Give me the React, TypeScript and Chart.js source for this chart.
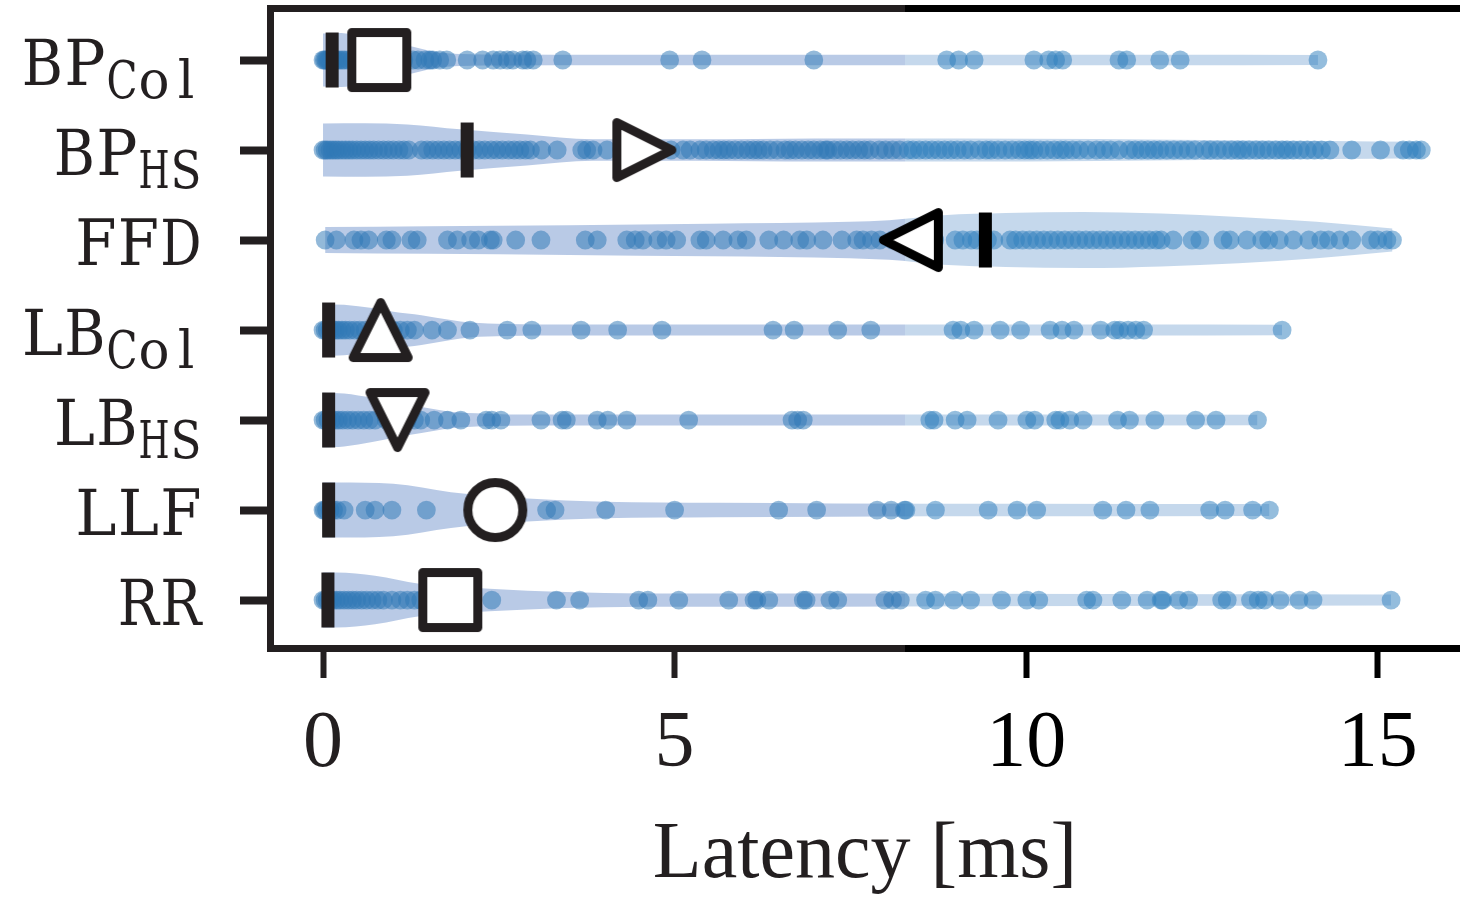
import { useEffect, useRef } from "react";
import { Chart, registerables } from "chart.js";

Chart.register(...registerables);

// ---------------- data ----------------
const categories = ["BPCol", "BPHS", "FFD", "LBCol", "LBHS", "LLF", "RR"];
const labelMain = ["BP", "BP", "FFD", "LB", "LB", "LLF", "RR"];
const labelSub = ["Col", "HS", "", "Col", "HS", "", ""];
const xTickValues = [0, 5, 10, 15];
const xMin = -0.754;
const xMax = 16.17;

const medians = [0.13, 2.05, 9.42, 0.08, 0.08, 0.08, 0.07];
const means = [0.8, 4.57, 8.36, 0.82, 1.06, 2.45, 1.81];
const meanMarkers = ["square", "triangleRight", "triangleLeft", "triangleUp", "triangleDown", "circle", "square"];

const pointsBPCol = [
  0.0, 0.02, 0.04, 0.06, 0.08, 0.1, 0.12, 0.14, 0.17, 0.2, 0.23, 0.27, 0.31, 0.36, 0.42, 0.5, 0.6, 0.72, 0.85, 1.0, 1.15,
  1.28, 1.35, 1.45, 1.52, 1.56, 1.66, 1.76, 2.05, 2.27, 2.42, 2.52, 2.62, 2.7, 2.84, 2.9, 2.99, 3.41, 4.93, 5.39, 6.98,
  8.87, 9.04, 9.26, 10.11, 10.32, 10.42, 10.52, 11.32, 11.43, 11.9, 12.19, 14.15,
];
const pointsBPHS = [
  0, 0.03, 0.06, 0.1, 0.14, 0.18, 0.22, 0.27, 0.32, 0.37, 0.42, 0.48, 0.54, 0.6, 0.66, 0.72, 0.79, 0.86, 0.93, 1.0, 1.08, 1.15, 1.22,
  1.4, 1.48, 1.56, 1.64, 1.72, 1.8, 1.88, 1.96, 2.05, 2.14, 2.22, 2.3, 2.39, 2.47, 2.55, 2.64, 2.72, 2.8, 2.88, 2.95,
  3.11, 3.33, 3.68, 3.75, 3.84, 4.04, 4.25, 4.45, 4.7, 4.95,
  5.12, 5.22, 5.36, 5.45, 5.55, 5.63, 5.7, 5.77, 5.86, 5.95, 6.04, 6.12, 6.19, 6.26, 6.36, 6.46, 6.57, 6.64, 6.72, 6.81, 6.9, 6.98,
  7.07, 7.15, 7.18, 7.27, 7.36, 7.45, 7.53, 7.62, 7.7, 7.78, 7.91, 8.0, 8.1, 8.2, 8.32, 8.39, 8.48, 8.57, 8.66, 8.75, 8.84, 8.93,
  9.02, 9.12, 9.21, 9.33, 9.43, 9.5, 9.6, 9.7, 9.8, 9.9, 9.98, 10.05, 10.11, 10.2, 10.3, 10.4, 10.49, 10.56, 10.66, 10.76, 10.88,
  11.0, 11.1, 11.2, 11.32, 11.46, 11.55, 11.64, 11.73, 11.82, 11.9, 12.0, 12.1, 12.2, 12.3, 12.4, 12.53, 12.62, 12.72, 12.82, 12.92,
  13.01, 13.08, 13.17, 13.27, 13.36, 13.45, 13.55, 13.64, 13.71, 13.8, 13.9, 14.0, 14.1, 14.2, 14.32, 14.63, 15.04, 15.36, 15.45,
  15.55, 15.62,
];
const pointsFFD = [
  0.03, 0.19, 0.44, 0.54, 0.65, 0.9, 0.98, 1.25, 1.34, 1.77, 1.91, 2.1, 2.21, 2.38, 2.42, 2.74, 3.1, 3.73, 3.9, 4.32, 4.44, 4.55,
  4.76, 4.88, 5.03, 5.36, 5.45, 5.69, 5.9, 6.02, 6.34, 6.55, 6.78, 6.88, 7.11, 7.38, 7.59, 7.68, 7.8, 7.92, 8.1, 8.4, 8.7,
  8.99, 9.1, 9.22, 9.3, 9.45, 9.54, 9.77, 9.85, 9.95, 10.05, 10.15, 10.25, 10.35, 10.45, 10.55, 10.65, 10.75, 10.85, 10.95,
  11.05, 11.15, 11.25, 11.35, 11.45, 11.55, 11.65, 11.75, 11.85, 11.92, 12.09, 12.36, 12.47, 12.8, 12.9, 13.14, 13.35, 13.45,
  13.6, 13.8, 14.02, 14.19, 14.3, 14.46, 14.63, 14.9, 15.0, 15.13, 15.21,
];
const pointsLBCol = [
  0, 0.03, 0.06, 0.1, 0.14, 0.18, 0.22, 0.27, 0.32, 0.38, 0.45, 0.52, 0.6, 0.7, 0.8, 0.9, 1.0, 1.1, 1.2, 1.3, 1.55, 1.77, 2.09,
  2.62, 2.97, 3.67, 4.19, 4.82, 6.4, 6.7, 7.32, 7.79, 8.96, 9.07, 9.26, 9.63, 9.92, 10.34, 10.51, 10.68, 11.06, 11.26, 11.33,
  11.45, 11.56, 11.67, 13.64,
];
const pointsLBHS = [
  0, 0.03, 0.07, 0.12, 0.17, 0.22, 0.28, 0.35, 0.42, 0.5, 0.58, 0.66, 0.74, 0.9, 1.0, 1.1, 1.2, 1.3, 1.39, 1.58, 1.77, 1.96,
  2.32, 2.4, 2.53, 3.1, 3.4, 3.46, 3.9, 4.05, 4.32, 5.2, 6.67, 6.75, 6.83, 8.63, 8.69, 8.99, 9.16, 9.6, 10.01, 10.12, 10.42,
  10.48, 10.62, 10.81, 11.3, 11.47, 11.83, 12.41, 12.7, 13.29,
];
const pointsLLF = [
  0, 0.02, 0.05, 0.1, 0.15, 0.2, 0.3, 0.6, 0.74, 0.98, 1.47, 2.2, 2.6, 3.18, 3.3, 4.02, 5.0, 6.48, 7.02, 7.88, 8.08, 8.27,
  8.29, 8.71, 9.46, 9.87, 10.15, 11.09, 11.42, 11.76, 12.61, 12.83, 13.22, 13.46,
];
const pointsRR = [
  0, 0.03, 0.06, 0.1, 0.14, 0.19, 0.24, 0.3, 0.36, 0.42, 0.48, 0.55, 0.62, 0.7, 0.78, 0.86, 0.98, 1.1, 1.2, 1.3, 1.39, 1.6,
  2.0, 2.4, 3.32, 3.65, 4.49, 4.62, 5.06, 5.77, 6.13, 6.17, 6.34, 6.83, 6.87, 7.21, 7.32, 7.99, 8.1, 8.21, 8.57, 8.71, 8.97,
  9.21, 9.65, 10.01, 10.18, 10.86, 10.95, 11.36, 11.72, 11.92, 11.94, 12.17, 12.31, 12.78, 12.86, 13.19, 13.3, 13.39, 13.61,
  13.88, 14.08, 15.19,
];

// violin outlines: positions along x and relative half-width (1 = widest)
const violinBPColX = [0, 0.2, 0.45, 0.75, 1.0, 1.28, 1.57, 1.95, 2.6, 4, 6, 8, 10, 12, 14.15];
const violinBPColW = [0.96, 0.98, 0.93, 0.8, 0.64, 0.48, 0.31, 0.22, 0.2, 0.19, 0.19, 0.19, 0.19, 0.19, 0.18];
const violinBPHSX = [0, 0.6, 1.2, 1.95, 2.9, 3.84, 5.3, 7, 9, 11, 12.5, 14.32, 15.62];
const violinBPHSW = [0.96, 0.97, 0.93, 0.75, 0.56, 0.39, 0.39, 0.42, 0.42, 0.4, 0.36, 0.33, 0.3];
const violinFFDX = [0.03, 1.5, 3.5, 5.5, 7.49, 8.05, 8.82, 9.71, 10.81, 11.92, 13.02, 14.13, 15.21];
const violinFFDW = [0.47, 0.5, 0.54, 0.59, 0.66, 0.72, 0.9, 0.98, 1.02, 0.96, 0.84, 0.66, 0.42];
const violinLBColX = [0, 0.3, 0.7, 1.0, 1.4, 1.82, 2.09, 2.6, 3.5, 6, 9, 11.5, 13.64];
const violinLBColW = [0.94, 0.92, 0.8, 0.66, 0.54, 0.36, 0.27, 0.22, 0.2, 0.2, 0.2, 0.2, 0.19];
const violinLBHSX = [0, 0.3, 0.7, 1.0, 1.4, 1.82, 2.3, 3, 6, 10, 13.29];
const violinLBHSW = [0.99, 0.96, 0.8, 0.64, 0.47, 0.3, 0.23, 0.2, 0.2, 0.2, 0.19];
const violinLLFX = [0, 0.19, 1.0, 1.82, 2.91, 3.99, 5.6, 7.27, 10, 13.46];
const violinLLFW = [1.0, 1.0, 0.95, 0.65, 0.42, 0.3, 0.26, 0.24, 0.23, 0.22];
const violinRRX = [0, 0.19, 0.74, 1.37, 2.37, 3.45, 4.55, 7.27, 11, 15.19];
const violinRRW = [1.0, 1.0, 0.88, 0.59, 0.41, 0.29, 0.24, 0.24, 0.22, 0.2];

const rowPoints = [pointsBPCol, pointsBPHS, pointsFFD, pointsLBCol, pointsLBHS, pointsLLF, pointsRR];
const rowViolinX = [violinBPColX, violinBPHSX, violinFFDX, violinLBColX, violinLBHSX, violinLLFX, violinRRX];
const rowViolinW = [violinBPColW, violinBPHSW, violinFFDW, violinLBColW, violinLBHSW, violinLLFW, violinRRW];

// ---------------- style ----------------
const DARK = "#231f20";
const BLACK = "#000000";
const SPLIT_PX = 905;
const VIOLIN_L = "#b9cae6";
const VIOLIN_R = "#c5d8ec";
const POINT_L = "rgba(48,120,183,0.52)";
const POINT_R = "rgba(50,128,190,0.52)";
const HALF = 0.306;
const LABEL_FONT = '"DejaVu Serif"';

function makeMarker(shape: string, color: string): HTMLCanvasElement {
  const S = 80;
  const c = document.createElement("canvas");
  c.width = S;
  c.height = S;
  const g = c.getContext("2d")!;
  const h = 27.5;
  const cx = S / 2;
  const cy = S / 2;
  g.lineWidth = 9;
  g.lineJoin = "round";
  g.strokeStyle = color;
  g.fillStyle = "#ffffff";
  g.beginPath();
  if (shape === "square") {
    g.rect(cx - h, cy - h, 2 * h, 2 * h);
  } else if (shape === "circle") {
    g.arc(cx, cy, h, 0, Math.PI * 2);
  } else {
    let pts: number[][] = [];
    if (shape === "triangleUp") pts = [[0, -1], [-1, 1], [1, 1]];
    if (shape === "triangleDown") pts = [[0, 1], [-1, -1], [1, -1]];
    if (shape === "triangleRight") pts = [[1, 0], [-1, -1], [-1, 1]];
    if (shape === "triangleLeft") pts = [[-1, 0], [1, -1], [1, 1]];
    pts.forEach((p, k) => {
      const px = cx + p[0] * h;
      const py = cy + p[1] * h;
      if (k === 0) g.moveTo(px, py);
      else g.lineTo(px, py);
    });
    g.closePath();
  }
  g.fill();
  g.stroke();
  return c;
}

const framePlugin = {
  id: "frame",
  afterDraw(chart: any) {
    const { ctx, chartArea: a } = chart;
    ctx.save();
    ctx.lineWidth = 7;
    ctx.lineCap = "butt";
    const seg = (x1: number, y1: number, x2: number, y2: number, c: string) => {
      ctx.strokeStyle = c;
      ctx.beginPath();
      ctx.moveTo(x1, y1);
      ctx.lineTo(x2, y2);
      ctx.stroke();
    };
    const L = a.left + 0.5;
    const T = a.top + 0.5;
    const B = a.bottom + 0.5;
    seg(L, T - 3.5, L, B + 3.5, DARK);
    seg(L - 3.5, T, SPLIT_PX, T, DARK);
    seg(SPLIT_PX, T, a.right, T, BLACK);
    seg(L - 3.5, B, SPLIT_PX, B, DARK);
    seg(SPLIT_PX, B, a.right, B, BLACK);
    ctx.restore();
  },
};

// typewriter-like labels: each glyph sits in a fixed-width cell
function drawMono(ctx: CanvasRenderingContext2D, text: string, xStart: number, baseline: number, size: number, cell: number) {
  ctx.font = `${size}px ${LABEL_FONT}`;
  for (let k = 0; k < text.length; k++) {
    const ch = text[k];
    const w = ctx.measureText(ch).width;
    const sx = Math.min(1, (cell * 0.97) / w);
    ctx.save();
    ctx.translate(xStart + cell * (k + 0.5), baseline);
    ctx.scale(sx, 1);
    ctx.fillText(ch, 0, 0);
    ctx.restore();
  }
}

const yLabelPlugin = {
  id: "ylabels",
  afterDraw(chart: any) {
    const { ctx } = chart;
    const ys = chart.scales.y;
    const right = 202;
    const mainCell = 42.5;
    const subCell = 32;
    ctx.save();
    ctx.fillStyle = DARK;
    ctx.textBaseline = "alphabetic";
    ctx.textAlign = "center";
    categories.forEach((_, i) => {
      const y = ys.getPixelForValue(i);
      const subW = labelSub[i].length * subCell;
      const mainW = labelMain[i].length * mainCell;
      const x0 = right - subW - mainW;
      drawMono(ctx, labelMain[i], x0, y + 25, 64, mainCell);
      if (labelSub[i]) drawMono(ctx, labelSub[i], x0 + mainW, y + 38, 52, subCell);
    });
    ctx.restore();
  },
};

export default function App() {
  const ref = useRef<HTMLCanvasElement | null>(null);

  useEffect(() => {
    if (!ref.current) return;

    const violinFill = (c: any) => {
      const ch = c.chart;
      const a = ch.chartArea;
      if (!a) return VIOLIN_L;
      const g = ch.ctx.createLinearGradient(a.left, 0, a.right, 0);
      const f = Math.min(1, Math.max(0, (SPLIT_PX - a.left) / (a.right - a.left)));
      g.addColorStop(0, VIOLIN_L);
      g.addColorStop(f, VIOLIN_L);
      g.addColorStop(f, VIOLIN_R);
      g.addColorStop(1, VIOLIN_R);
      return g;
    };
    const pxOf = (c: any) => {
      const xs = c.chart.scales && c.chart.scales.x;
      if (!xs || !c.raw) return 0;
      return xs.getPixelForValue(c.raw.x);
    };
    const pointColor = (c: any) => (pxOf(c) < SPLIT_PX ? POINT_L : POINT_R);
    const markColor = (c: any) => (pxOf(c) < SPLIT_PX ? DARK : BLACK);

    const meanImgs = meanMarkers.map((s, i) => {
      const approxPx = 323 + means[i] * 70.33;
      return makeMarker(s, approxPx < SPLIT_PX ? DARK : BLACK);
    });

    const datasets: any[] = [];
    categories.forEach((_, i) => {
      const vx = rowViolinX[i];
      const vw = rowViolinW[i];
      datasets.push({
        type: "line",
        data: vx.map((x, k) => ({ x, y: i - vw[k] * HALF })),
        borderColor: "transparent",
        borderWidth: 0,
        pointRadius: 0,
        fill: false,
        cubicInterpolationMode: "monotone",
        order: 3,
      });
      datasets.push({
        type: "line",
        data: vx.map((x, k) => ({ x, y: i + vw[k] * HALF })),
        borderColor: "transparent",
        borderWidth: 0,
        pointRadius: 0,
        fill: "-1",
        backgroundColor: violinFill,
        cubicInterpolationMode: "monotone",
        order: 3,
      });
    });
    categories.forEach((_, i) => {
      datasets.push({
        type: "scatter",
        data: rowPoints[i].map((v) => ({ x: v, y: i })),
        pointRadius: 9.4,
        pointBorderWidth: 0,
        pointBackgroundColor: pointColor,
        pointBorderColor: "transparent",
        order: 2,
      });
    });
    datasets.push({
      type: "scatter",
      data: medians.map((m, i) => ({ x: m, y: i })),
      pointStyle: "line",
      pointRotation: 90,
      pointRadius: 27.5,
      pointBorderWidth: 13,
      pointBorderColor: markColor,
      order: 1,
    });
    datasets.push({
      type: "scatter",
      data: means.map((m, i) => ({ x: m, y: i })),
      pointStyle: meanImgs,
      pointRadius: 32,
      order: 0,
    });

    const chart = new Chart(ref.current, {
      type: "scatter",
      data: { datasets },
      plugins: [framePlugin, yLabelPlugin],
      options: {
        animation: false,
        responsive: false,
        events: [],
        layout: { autoPadding: false, padding: { top: 8, left: 0, right: 0, bottom: 0 } },
        plugins: { legend: { display: false }, tooltip: { enabled: false } },
        scales: {
          x: {
            type: "linear",
            min: xMin,
            max: xMax,
            afterBuildTicks: (s: any) => {
              s.ticks = xTickValues.map((v) => ({ value: v }));
            },
            afterFit: (s: any) => {
              s.height = 249;
            },
            border: { display: false },
            grid: {
              drawOnChartArea: false,
              drawTicks: true,
              tickLength: 30,
              tickWidth: 6,
              tickColor: (c: any) =>
                c.tick && c.scale.getPixelForValue(c.tick.value) < SPLIT_PX ? DARK : BLACK,
            },
            ticks: {
              padding: 19,
              autoSkip: false,
              maxRotation: 0,
              font: { family: "Liberation Serif", size: 80 },
              color: (c: any) =>
                c.tick && c.scale.getPixelForValue(c.tick.value) < SPLIT_PX ? DARK : BLACK,
            },
            title: {
              display: true,
              text: "Latency [ms]",
              color: DARK,
              font: { family: "Liberation Serif", size: 80, lineHeight: 1 },
              padding: { top: 0, bottom: 1 },
            },
          },
          y: {
            type: "linear",
            min: -0.578,
            max: 6.533,
            reverse: true,
            afterBuildTicks: (s: any) => {
              s.ticks = categories.map((_, i) => ({ value: i }));
            },
            afterFit: (s: any) => {
              s.width = 270;
            },
            border: { display: false },
            grid: {
              drawOnChartArea: false,
              drawTicks: true,
              tickLength: 30,
              tickWidth: 8,
              tickColor: DARK,
            },
            ticks: { display: false },
          },
        },
      } as any,
    });

    return () => chart.destroy();
  }, []);

  return (
    <div style={{ position: "fixed", left: 0, top: 0, width: 1460, height: 897, background: "#fff" }}>
      <canvas ref={ref} width={1460} height={897} style={{ display: "block" }} />
    </div>
  );
}
